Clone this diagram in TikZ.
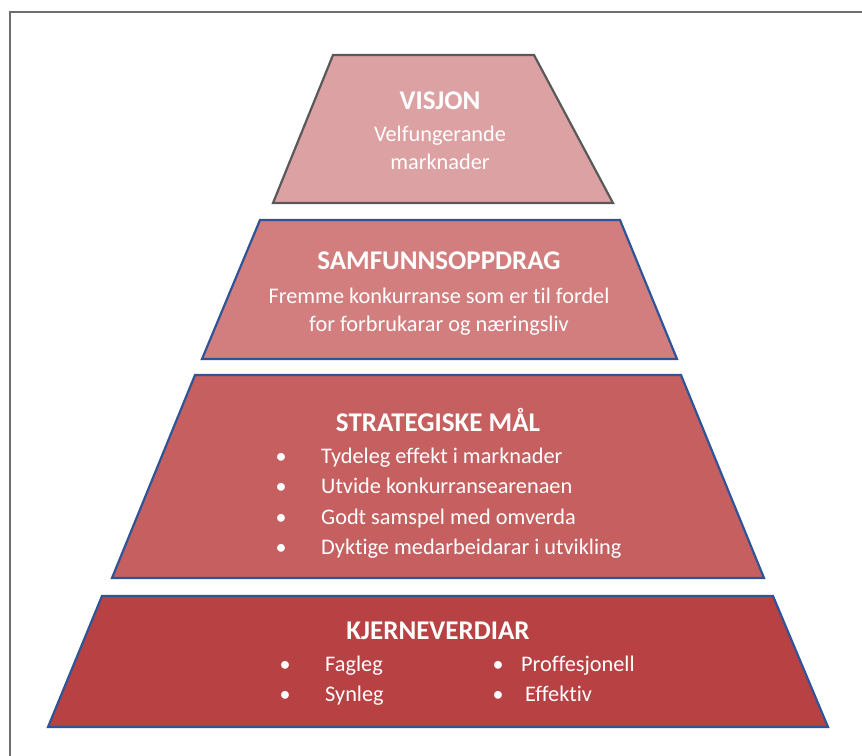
\documentclass[tikz,border=0pt]{standalone}
\usepackage{fontspec}
\setmainfont[Ligatures=NoCommon]{Carlito}
\definecolor{frameg}{HTML}{6E6E6E}
\definecolor{outgray}{HTML}{595959}
\definecolor{outblue}{HTML}{2F5597}
\definecolor{fillA}{HTML}{DCA1A2}
\definecolor{fillB}{HTML}{D27D7E}
\definecolor{fillC}{HTML}{C55F60}
\definecolor{fillD}{HTML}{B84143}
\tikzset{
  tier/.style={line width=2.2pt, line join=miter},
  ttl/.style={text=white, font=\fontsize{27}{30}\selectfont\bfseries, inner sep=0pt, anchor=base},
  txt/.style={text=white, font=\fontsize{22.3}{28}\selectfont, inner sep=0pt, anchor=base},
  txtl/.style={text=white, font=\fontsize{22.3}{28}\selectfont, inner sep=0pt, anchor=base west},
  bul/.style={text=white, font=\fontsize{22}{28}\selectfont, inner sep=0pt, anchor=base},
}
\begin{document}
\begin{tikzpicture}[x=1pt,y=-1pt]
\useasboundingbox (0,0) rectangle (862,755);
\begin{scope}
\clip (0,0) rectangle (862,755);
\draw[frameg, line width=2.2pt] (10,12) rectangle (880,780);
\end{scope}
% tiers
\draw[tier, outgray, fill=fillA] (333,55) -- (534,55) -- (613,203) -- (273,203) -- cycle;
\draw[tier, outblue, fill=fillB] (260,220) -- (620,220) -- (677,359) -- (202,359) -- cycle;
\draw[tier, outblue, fill=fillC] (195,375) -- (681,375) -- (764,578) -- (112,578) -- cycle;
\draw[tier, outblue, fill=fillD] (102,596) -- (773,596) -- (828,727) -- (48,727) -- cycle;
% VISJON
\node[ttl] (t1) at (440,109) {VISJON};
\node[txt] (t1a) at (440,141) {Velfungerande};
\node[txt] (t1b) at (440,169) {marknader};
% SAMFUNNSOPPDRAG
\node[ttl] (t2) at (439,269) {SAMFUNNSOPPDRAG};
\node[txt] (t2a) at (439,303) {Fremme konkurranse som er til fordel};
\node[txt] (t2b) at (439,331) {for forbrukarar og næringsliv};
% STRATEGISKE
\node[ttl] (t3) at (438,431) {STRATEGISKE MÅL};
\node[bul] (b31) at (281,463) {•};
\node[txtl] (s31) at (321,463) {Tydeleg effekt i marknader};
\node[bul] (b32) at (281,493) {•};
\node[txtl] (s32) at (321,493) {Utvide konkurransearenaen};
\node[bul] (b33) at (281,524) {•};
\node[txtl] (s33) at (321,524) {Godt samspel med omverda};
\node[bul] (b34) at (281,554) {•};
\node[txtl] (s34) at (321,554) {Dyktige medarbeidarar i utvikling};
% KJERNEVERDIAR
\node[ttl] (t4) at (438,639) {KJERNEVERDIAR};
\node[bul] (b41) at (285,671) {•};
\node[txtl] (k41) at (325,671) {Fagleg};
\node[bul] (b42) at (285,701) {•};
\node[txtl] (k42) at (325,701) {Synleg};
\node[bul] (b43) at (498,671) {•};
\node[txtl] (k43) at (521,671) {Proffesjonell};
\node[bul] (b44) at (498,701) {•};
\node[txtl] (k44) at (525,701) {Effektiv};
\end{tikzpicture}
\end{document}
